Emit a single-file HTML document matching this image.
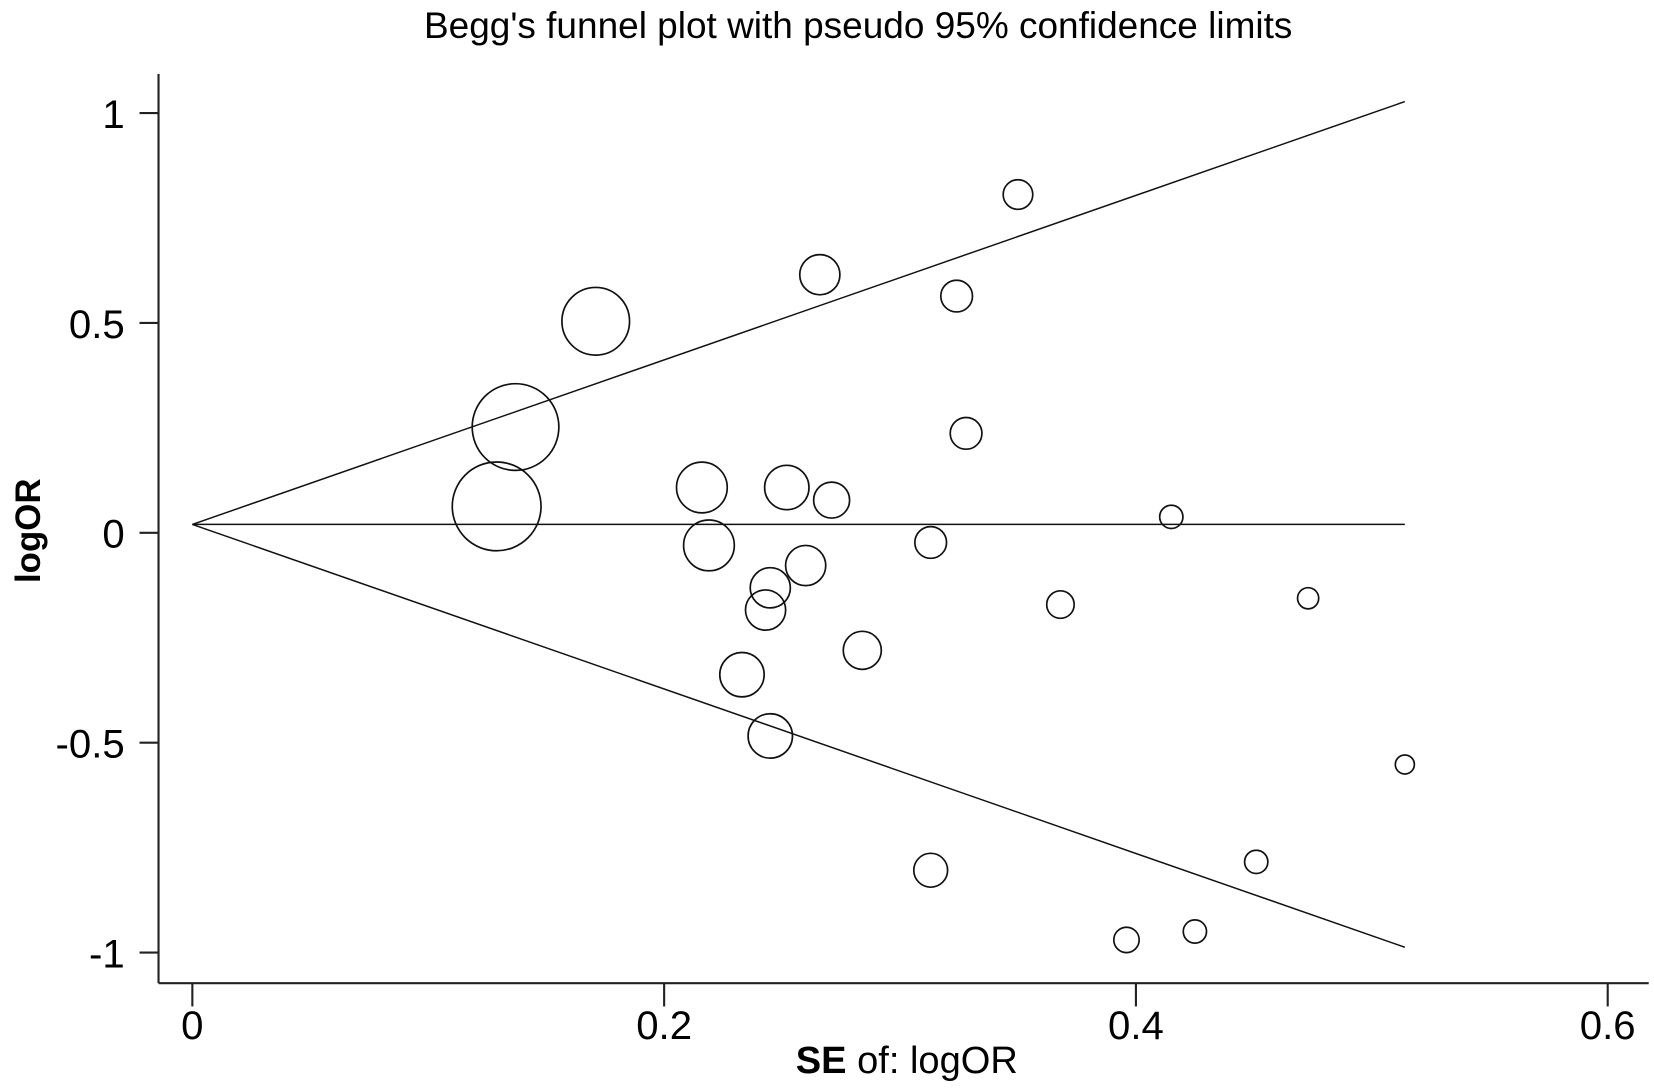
<!DOCTYPE html>
<html><head><meta charset="utf-8"><style>
html,body{margin:0;padding:0;background:#fff;}
svg{display:block;font-family:"Liberation Sans",Arial,sans-serif;}
</style></head><body>
<svg id="chart" width="1654" height="1091" viewBox="0 0 1565 1032" preserveAspectRatio="none" xmlns="http://www.w3.org/2000/svg">
<text x="812" y="36" font-size="35" text-anchor="middle">Begg's funnel plot with pseudo 95% confidence limits</text>
<g id="axes"></g><g id="marks"></g>
<text x="858" y="1015" font-size="36" text-anchor="middle"><tspan font-weight="bold">SE</tspan> of: logOR</text>
<text transform="translate(38,502) rotate(-90)" font-size="33" font-weight="bold" text-anchor="middle">logOR</text>
</svg>
<script>
const se=[0.350,0.266,0.324,0.171,0.137,0.328,0.129,0.216,0.252,0.271,0.415,0.219,0.313,0.260,0.245,0.243,0.368,0.473,0.284,0.233,0.245,0.514,0.451,0.313,0.396,0.425];
const logOR=[0.806,0.615,0.564,0.504,0.252,0.237,0.063,0.108,0.108,0.078,0.038,-0.030,-0.023,-0.078,-0.131,-0.184,-0.171,-0.156,-0.280,-0.338,-0.484,-0.552,-0.784,-0.804,-0.970,-0.950];
const weight=[14,19,15,32,41,15,42,24,21,17,11,24,15,19,19,19,13,10,18,21,21,9,11,16,12,11];
const xTicks=[0,0.2,0.4,0.6];
const xTickLabels=["0","0.2","0.4","0.6"];
const yTicks=[1,0.5,0,-0.5,-1];
const yTickLabels=["1","0.5","0","-0.5","-1"];
const pooled=0.02;
const seMax=0.514;
const NS="http://www.w3.org/2000/svg";
const X=v=>182+v*2232;
const Y=v=>504-v*397;
function mk(tag,attrs,parent){const e=document.createElementNS(NS,tag);for(const k in attrs)e.setAttribute(k,attrs[k]);parent.appendChild(e);return e;}
const ax=document.getElementById('axes'),mg=document.getElementById('marks');
let e=mk('line',{x1:150,y1:70,x2:150,y2:930,stroke:'#222','stroke-width':2},ax);


e=mk('line',{x1:150,y1:930,x2:1560,y2:930,stroke:'#222','stroke-width':2},ax);


xTicks.forEach((t,i)=>{
  e=mk('line',{x1:X(t),y1:930,x2:X(t),y2:952,stroke:'#222','stroke-width':2},ax);
  
  
  e=mk('text',{x:X(t),y:983,'font-size':38,'text-anchor':'middle'},ax);e.textContent=xTickLabels[i];
  
  
});
yTicks.forEach((t,i)=>{
  e=mk('line',{x1:132,y1:Y(t),x2:150,y2:Y(t),stroke:'#222','stroke-width':2},ax);
  
  
  e=mk('text',{x:118,y:Y(t)+14,'font-size':38,'text-anchor':'end'},ax);e.textContent=yTickLabels[i];
  
  
});
const lines=[[pooled,pooled+1.96*seMax,'upper-confidence-limit'],[pooled,pooled,'pooled-estimate-line'],[pooled,pooled-1.96*seMax,'lower-confidence-limit']];
lines.forEach(l=>{
  e=mk('line',{x1:X(0),y1:Y(l[0]),x2:X(seMax),y2:Y(l[1]),stroke:'#111','stroke-width':1.4},mg);
  
  
});
se.forEach((s,i)=>{
  e=mk('circle',{cx:X(s),cy:Y(logOR[i]),r:weight[i],fill:'none',stroke:'#111','stroke-width':1.6},mg);
  
  
});
</script>
</body></html>
